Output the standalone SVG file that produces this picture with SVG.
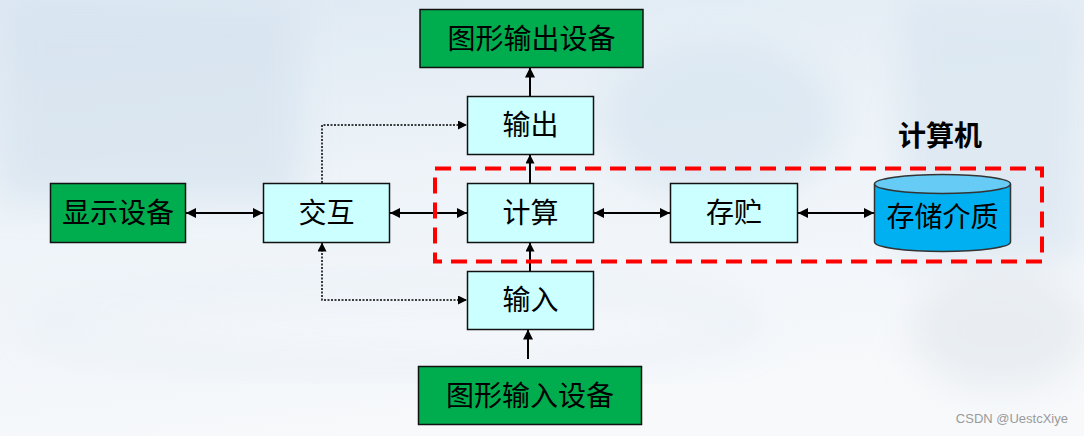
<svg xmlns="http://www.w3.org/2000/svg" width="1084" height="436" viewBox="0 0 1084 436">
<defs>
<linearGradient id="bg" x1="0" y1="0" x2="0.3" y2="1">
<stop offset="0" stop-color="#d8e5f1"/>
<stop offset="0.45" stop-color="#eaf1f7"/>
<stop offset="1" stop-color="#f6f8fb"/>
</linearGradient>
<filter id="blur" x="-20%" y="-20%" width="140%" height="140%"><feGaussianBlur stdDeviation="18"/></filter>
<marker id="ah" viewBox="0 0 10 10" refX="10" refY="5" markerWidth="11" markerHeight="10" markerUnits="userSpaceOnUse" orient="auto-start-reverse">
<path d="M0,0 L10,5 L0,10 Z" fill="#000"/>
</marker>
<marker id="ahs" viewBox="0 0 10 10" refX="10" refY="5" markerWidth="10" markerHeight="9" markerUnits="userSpaceOnUse" orient="auto-start-reverse">
<path d="M0,0 L10,5 L0,10 Z" fill="#000"/>
</marker>
<style>
.green{fill:#00ad4e;stroke:#111;stroke-width:1.5}
.cyan{fill:#ccffff;stroke:#111;stroke-width:1.5}
.t{font-family:"Noto Sans CJK SC","Noto Sans",sans-serif;font-size:28px;fill:#000;text-anchor:middle}
.line{stroke:#000;stroke-width:2;fill:none}
.dot{stroke:#000;stroke-width:1.5;fill:none;stroke-dasharray:2 1.5}
</style>
</defs>
<rect width="1084" height="436" fill="url(#bg)"/>
<g filter="url(#blur)" opacity="0.7">
<rect x="0" y="0" width="300" height="200" fill="#cfdeec"/>
<rect x="900" y="0" width="184" height="260" fill="#d3e1ee"/>
<ellipse cx="720" cy="120" rx="120" ry="80" fill="#d2e1ee"/>
<ellipse cx="1000" cy="330" rx="90" ry="60" fill="#dfe5ea"/>
</g>
<ellipse cx="395" cy="325" rx="360" ry="42" fill="none" stroke="#cfe0ee" stroke-width="10" opacity="0.6" filter="url(#blur)"/>
<rect x="0" y="0" width="1084" height="436" fill="#ffffff" opacity="0.15"/>

<g id="connectors">
<line class="line" x1="186" y1="213" x2="263" y2="213" marker-start="url(#ah)" marker-end="url(#ah)"/>
<line class="line" x1="390" y1="213" x2="467" y2="213" marker-start="url(#ah)" marker-end="url(#ah)"/>
<line class="line" x1="594" y1="213" x2="670" y2="213" marker-start="url(#ah)" marker-end="url(#ah)"/>
<line class="line" x1="798" y1="213" x2="874" y2="213" marker-start="url(#ah)" marker-end="url(#ah)"/>
<line class="line" x1="530" y1="96" x2="530" y2="67.5" marker-end="url(#ah)"/>
<line class="line" x1="530" y1="183" x2="530" y2="154.5" marker-end="url(#ahs)"/>
<line class="line" x1="530" y1="271" x2="530" y2="242.5" marker-end="url(#ahs)"/>
<line class="line" x1="528" y1="359" x2="528" y2="329.5" marker-end="url(#ah)"/>
<polyline class="dot" points="322,183 322,125 467,125" marker-end="url(#ahs)"/>
<polyline class="dot" points="322,242.5 322,300 467,300" marker-start="url(#ahs)" marker-end="url(#ahs)"/>
</g>

<g id="computer-group">
<rect x="435" y="168.5" width="607" height="93" fill="none" stroke="#ff0000" stroke-width="4" stroke-dasharray="16 9"/>
<text x="940" y="146" style="font-family:'Noto Sans CJK SC','Noto Sans',sans-serif;font-size:28px;font-weight:bold;fill:#000;text-anchor:middle">计算机</text>
</g>

<g id="node-out-device">
<rect class="green" x="420" y="9.5" width="223" height="58"/>
<text class="t" x="531.5" y="48.5">图形输出设备</text>
</g>
<g id="node-output">
<rect class="cyan" x="467.5" y="96.5" width="126" height="58"/>
<text class="t" x="530.5" y="135">输出</text>
</g>
<g id="node-display">
<rect class="green" x="50.5" y="183.5" width="135" height="59"/>
<text class="t" x="118" y="223">显示设备</text>
</g>
<g id="node-interact">
<rect class="cyan" x="263.5" y="183.5" width="126" height="59"/>
<text class="t" x="326.5" y="223">交互</text>
</g>
<g id="node-compute">
<rect class="cyan" x="467.5" y="183.5" width="126" height="59"/>
<text class="t" x="530.5" y="223">计算</text>
</g>
<g id="node-store">
<rect class="cyan" x="670.5" y="183.5" width="127" height="59"/>
<text class="t" x="734" y="223">存贮</text>
</g>
<g id="node-medium">
<path d="M874.5,184 L874.5,242 A68,9.5 0 0 0 1010.5,242 L1010.5,184" fill="#00b0f0" stroke="#333" stroke-width="1.5"/>
<ellipse cx="942.5" cy="184" rx="68" ry="9.5" fill="#66ccf5" stroke="#333" stroke-width="1.5"/>
<text class="t" x="942.5" y="227">存储介质</text>
</g>
<g id="node-input">
<rect class="cyan" x="467.5" y="271.5" width="126" height="58"/>
<text class="t" x="530.5" y="310">输入</text>
</g>
<g id="node-in-device">
<rect class="green" x="418.5" y="366.5" width="223" height="58"/>
<text class="t" x="530" y="406">图形输入设备</text>
</g>
<text x="1068" y="423" style="font-family:'Liberation Sans',sans-serif;font-size:13px;fill:#9a9a9a;text-anchor:end">CSDN @UestcXiye</text>
</svg>
